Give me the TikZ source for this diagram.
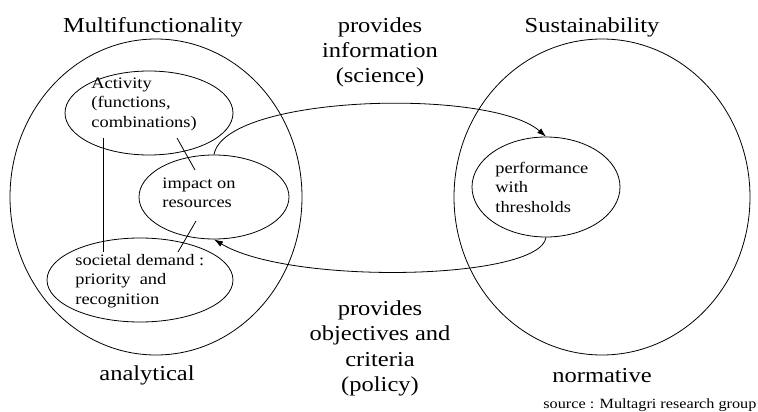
\documentclass[tikz,border=0pt]{standalone}
\usepackage{fontspec}
\setmainfont{Liberation Serif}[FakeStretch=1.15]
\usetikzlibrary{shapes.geometric,arrows.meta}
\begin{document}
\begin{tikzpicture}[x=1pt,y=-1pt,
  line width=0.8pt,
  oval/.style={draw,ellipse,inner sep=0pt},
  bigtxt/.style={font=\fontsize{21.3}{25.5}\selectfont,inner sep=0pt,align=center},
  smalltxt/.style={font=\fontsize{16}{19.5}\selectfont,inner sep=0pt,align=left,anchor=base west},
  arr/.style={-{Latex[length=9pt,width=6pt]}}]
\useasboundingbox (0,0) rectangle (758,412);
% big circles
\node[oval,minimum width=292pt,minimum height=316pt] (multi) at (156,197) {};
\node[oval,minimum width=296pt,minimum height=316pt] (sust) at (602,197) {};
% inner ellipses
\node[oval,minimum width=168pt,minimum height=84pt] (act) at (149,113) {};
\node[oval,minimum width=150pt,minimum height=84pt] (imp) at (214,197) {};
\node[oval,minimum width=186pt,minimum height=84pt] (soc) at (140,280) {};
\node[oval,minimum width=148pt,minimum height=100pt] (perf) at (546,187) {};
% inner texts (anchor = baseline of last line)
\node[smalltxt] (tact) at (91,127) {Activity\\(functions,\\combinations)};
\node[smalltxt] (timp) at (162,207.5) {impact on\\resources};
\node[smalltxt] (tsoc) at (75,304) {societal demand :\\priority~~and\\recognition};
\node[smalltxt] (tperf) at (495,212) {performance\\with\\thresholds};
% titles
\node[bigtxt,anchor=base] (tmulti) at (153,33) {Multifunctionality};
\node[bigtxt,anchor=base] (tsust) at (592,33) {Sustainability};
\node[bigtxt,anchor=base] (tana) at (147,380) {analytical};
\node[bigtxt,anchor=base] (tnorm) at (602,382) {normative};
\node[bigtxt,anchor=base] (tinfo) at (380,83) {provides\\information\\(science)};
\node[bigtxt,anchor=base] (tobj) at (380,391.5) {provides\\objectives and\\criteria\\(policy)};
\node[font=\fontsize{14.1}{16}\selectfont,inner sep=0pt,anchor=base west] (tsrc) at (543,408) {source : Multagri research group};
% connectors inside
\coordinate (a1) at (103,138);
\coordinate (a2) at (103,252);
\coordinate (b1) at (177,138);
\coordinate (b2) at (195,170);
\coordinate (c1) at (196,221);
\coordinate (c2) at (178,252);
\draw (a1) -- (a2);
\draw (b1) -- (b2);
\draw (c1) -- (c2);
% arrows
\draw[arr] (imp.north) .. controls +(11,-60) and +(-56,-49) .. (perf.north);
\draw[arr] (perf.south) .. controls +(-6,43) and +(76,46) .. (imp.south);
\end{tikzpicture}
\end{document}
